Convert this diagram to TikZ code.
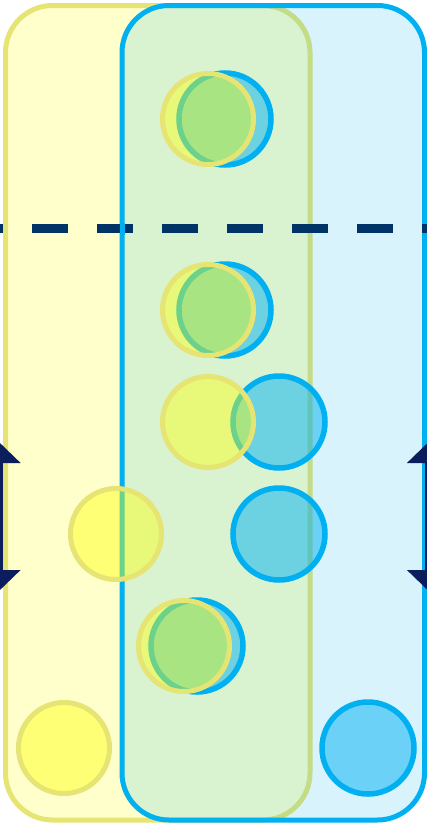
\documentclass[tikz,border=0pt]{standalone}
\usetikzlibrary{arrows.meta}
\definecolor{yfill}{HTML}{FFFFCC}
\definecolor{yline}{HTML}{E6E473}
\definecolor{bline}{HTML}{00B0F0}
\definecolor{ycirc}{HTML}{FFFF00}
\definecolor{dashc}{HTML}{003366}
\definecolor{arrc}{HTML}{0B1D5C}
\tikzset{
  yzone/.style={draw=yline, line width=5pt, fill=yfill, rounded corners=47pt, minimum width=304.5pt, minimum height=814.5pt, inner sep=0pt, outer sep=0pt},
  bzone/.style={draw=bline, line width=5pt, fill=bline, fill opacity=0.15, draw opacity=1, rounded corners=47pt, minimum width=302.5pt, minimum height=814.5pt, inner sep=0pt, outer sep=0pt},
  ydot/.style={circle, draw=yline, line width=5pt, fill=ycirc, fill opacity=0.42, draw opacity=1, minimum size=91pt, inner sep=0pt, outer sep=0pt},
  bdot/.style={circle, draw=bline, line width=5.5pt, fill=bline, fill opacity=0.5, draw opacity=1, minimum size=92pt, inner sep=0pt, outer sep=0pt},
  sep/.style={draw=dashc, line width=9pt, dash pattern=on 36pt off 29pt, dash phase=33pt},
  span/.style={draw=arrc, line width=6pt, {Triangle[width=40pt,length=20pt]}-{Triangle[width=40pt,length=20pt]}}
}
\begin{document}
\begin{tikzpicture}[x=1pt,y=-1pt]
\useasboundingbox (0,0) rectangle (427,825);
\node[yzone] (yz) at (157.75,412.75) {};
\node[bzone] (bz) at (273.25,412.75) {};
\coordinate (dl) at (0,228.5);
\coordinate (dr) at (427,228.5);
\path[sep] (dl) -- (dr);
% left border of blue zone passes over the dash
\draw[bline, line width=5pt] ([yshift=-6pt]bz.west |- dl) -- ([yshift=6pt]bz.west |- dl);
\coordinate (la) at (0,443);
\coordinate (lb) at (0,590);
\coordinate (ra) at (427.5,443);
\coordinate (rb) at (427.5,590);
\path[span] (la) -- (lb);
\path[span] (ra) -- (rb);
% blue circles
\node[bdot] (b1) at (225,119) {};
\node[bdot] (b2) at (225,310) {};
\node[bdot] (b3) at (279,422) {};
\node[bdot] (b4) at (279,534) {};
\node[bdot] (b5) at (197,646) {};
\node[bdot] (b6) at (368,748) {};
% yellow circles
\node[ydot] (y1) at (208,119) {};
\node[ydot] (y2) at (208,310) {};
\node[ydot] (y3) at (208,422) {};
\node[ydot] (y4) at (116,534) {};
\node[ydot] (y5) at (184,646) {};
\node[ydot] (y6) at (64,748) {};
\end{tikzpicture}
\end{document}
